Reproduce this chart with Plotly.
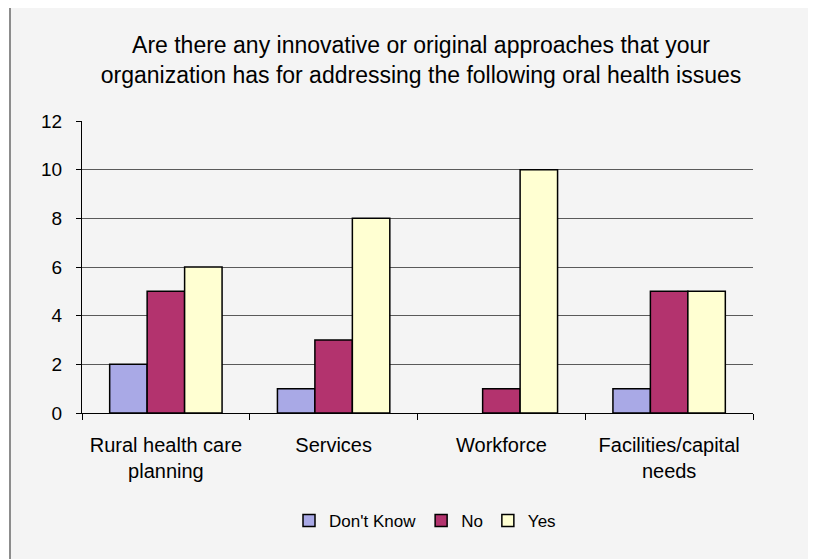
import plotly.graph_objects as go

categories = ["Rural health care<br>planning", "Services", "Workforce", "Facilities/capital<br>needs"]
dont_know = [2, 1, 0, 1]
no = [5, 3, 1, 5]
yes = [6, 8, 10, 5]
series_names = ["Don't Know", "No", "Yes"]
colors = ["#A9A9E6", "#B3336E", "#FFFFD2"]

W, H = 816, 559
OFF = 8  # browser body margin
L, R, T, B = 74, 71, 113, 154
pw, ph = W - L - R, H - T - B

fig = go.Figure()
for name, vals, c in zip(series_names, [dont_know, no, yes], colors):
    fig.add_trace(go.Bar(
        x=categories, y=vals, name=name,
        marker=dict(color=c, line=dict(color="#000000",
                                       width=[1.5 if v > 0 else 0 for v in vals])),
    ))

def sx(p):  # screen px -> paper x
    return (p - OFF - L) / pw

def sy(p):  # screen px -> paper y
    return (H - B - (p - OFF)) / ph

# white strips outside the chart frame (top and left)
fig.add_shape(type="rect", xref="paper", yref="paper", layer="below",
              x0=sx(-20), x1=sx(860), y0=sy(7), y1=sy(-20),
              fillcolor="#FFFFFF", line=dict(width=0))
fig.add_shape(type="rect", xref="paper", yref="paper", layer="below",
              x0=sx(-20), x1=sx(10), y0=sy(600), y1=sy(-20),
              fillcolor="#FFFFFF", line=dict(width=0))
fig.add_shape(type="line", xref="paper", yref="paper", layer="below",
              x0=sx(10), x1=sx(860), y0=sy(7), y1=sy(7),
              line=dict(color="#8C8C8C", width=2))
fig.add_shape(type="line", xref="paper", yref="paper", layer="below",
              x0=sx(10), x1=sx(10), y0=sy(600), y1=sy(7),
              line=dict(color="#8C8C8C", width=2))

fig.update_layout(
    width=W, height=H,
    margin=dict(l=L, r=R, t=T, b=B),
    paper_bgcolor="#F4F4F4",
    plot_bgcolor="rgba(0,0,0,0)",
    font=dict(family="Arial, Liberation Sans, sans-serif", size=19, color="#000000"),
    title=dict(
        text="Are there any innovative or original approaches that your<br>organization has for addressing the following oral health issues",
        x=(421 - OFF) / W, xanchor="center", y=1 - 45 / H, yanchor="top",
        font=dict(size=23, color="#000000"),
    ),
    barmode="group",
    bargap=0.33,
    bargroupgap=0,
    showlegend=True,
    legend=dict(orientation="h", x=sx(425), xanchor="center", y=sy(503), yanchor="top",
                font=dict(size=17), itemwidth=30, traceorder="normal",
                bgcolor="rgba(0,0,0,0)"),
    xaxis=dict(
        type="category", tickson="boundaries", ticks="outside", ticklen=6,
        tickcolor="#000000", showline=True, linecolor="#000000", linewidth=1,
        showgrid=False, tickfont=dict(size=20), ticklabelstandoff=14,
    ),
    yaxis=dict(
        range=[0, 12], dtick=2, ticks="outside", ticklen=5, tickcolor="#000000",
        showline=True, linecolor="#000000", linewidth=1,
        showgrid=True, gridcolor="#5A5A5A", gridwidth=1,
        zeroline=False, tickfont=dict(size=19), ticklabelstandoff=10,
    ),
)

fig.write_html("out.html")
